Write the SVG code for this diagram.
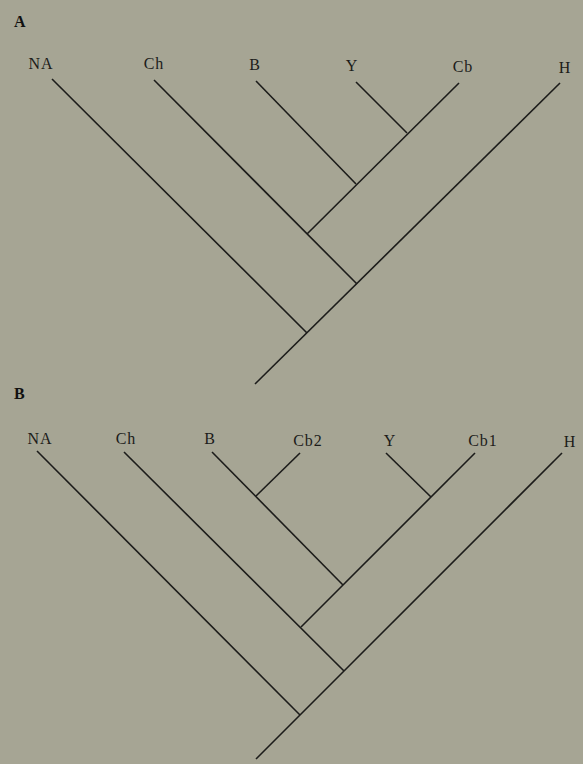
<svg xmlns="http://www.w3.org/2000/svg" width="583" height="764" viewBox="0 0 583 764">
  <style>
    .bg { fill: #a6a594; }
    .edge { stroke: #1c1c1a; stroke-width: 1.6; fill: none; stroke-linecap: butt; }
    .taxon { font-family: "Liberation Serif", "DejaVu Serif", serif; font-size: 16px; fill: #1c1c1a; text-anchor: middle; letter-spacing: 1px; }
    .panel { font-family: "Liberation Serif", "DejaVu Serif", serif; font-size: 16px; font-weight: bold; fill: #111; }
  </style>
  <rect class="bg" x="0" y="0" width="583" height="764"/>

  <g id="panel-A-label"><text class="panel" x="14" y="27">A</text></g>
  <g id="panel-B-label"><text class="panel" x="14" y="399">B</text></g>

  <g id="connectors">
    <!-- Tree A -->
    <path class="edge" d="M52,79 L307,333"/>
    <path class="edge" d="M154,80 L357,284"/>
    <path class="edge" d="M256,81 L356,184"/>
    <path class="edge" d="M356,82 L407,133"/>
    <path class="edge" d="M459,83 L307,234"/>
    <path class="edge" d="M560,83 L255,384"/>
    <!-- Tree B -->
    <path class="edge" d="M37,451 L300,715"/>
    <path class="edge" d="M124,452 L344,671"/>
    <path class="edge" d="M212,452 L343,585"/>
    <path class="edge" d="M300,453 L256,496"/>
    <path class="edge" d="M386,453 L431,497"/>
    <path class="edge" d="M475,453 L301,627"/>
    <path class="edge" d="M562,453 L256,759"/>
  </g>

  <g id="A-NA"><text class="taxon" x="41" y="69">NA</text></g>
  <g id="A-Ch"><text class="taxon" x="154" y="69">Ch</text></g>
  <g id="A-B"><text class="taxon" x="255" y="70">B</text></g>
  <g id="A-Y"><text class="taxon" x="352" y="71">Y</text></g>
  <g id="A-Cb"><text class="taxon" x="463" y="72">Cb</text></g>
  <g id="A-H"><text class="taxon" x="565" y="73">H</text></g>

  <g id="B-NA"><text class="taxon" x="40" y="444">NA</text></g>
  <g id="B-Ch"><text class="taxon" x="126" y="444">Ch</text></g>
  <g id="B-B"><text class="taxon" x="210" y="444">B</text></g>
  <g id="B-Cb2"><text class="taxon" x="308" y="446">Cb2</text></g>
  <g id="B-Y"><text class="taxon" x="390" y="446">Y</text></g>
  <g id="B-Cb1"><text class="taxon" x="483" y="446">Cb1</text></g>
  <g id="B-H"><text class="taxon" x="570" y="447">H</text></g>
</svg>
